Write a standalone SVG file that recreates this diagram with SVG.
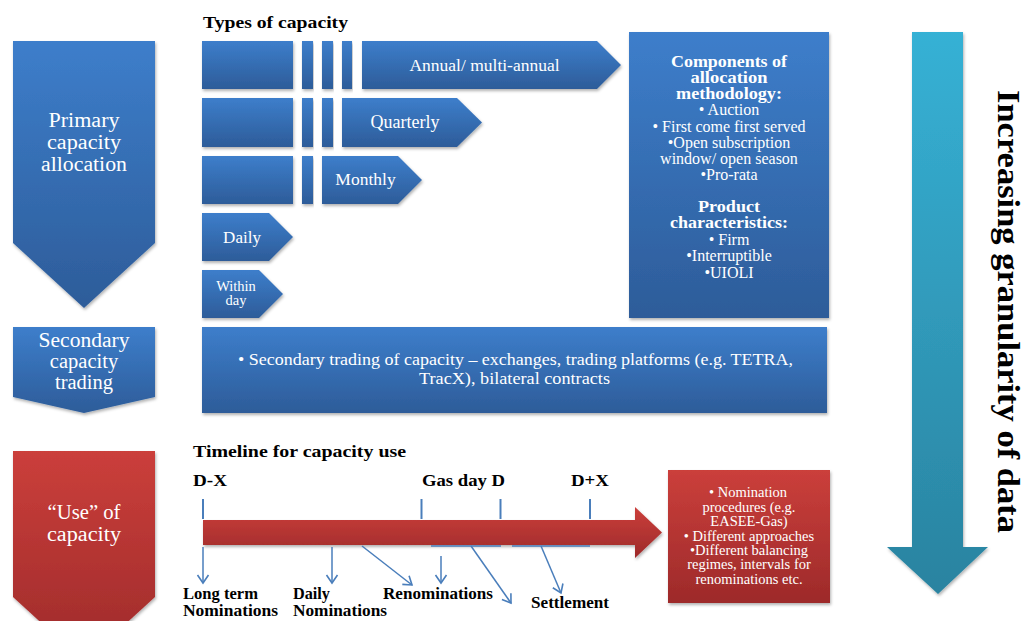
<svg xmlns="http://www.w3.org/2000/svg" width="1026" height="621" viewBox="0 0 1026 621">
  <defs>
    <linearGradient id="gBlue" x1="0" y1="0" x2="0" y2="1">
      <stop offset="0" stop-color="#3d7ecb"/>
      <stop offset="1" stop-color="#2d5c99"/>
    </linearGradient>
    <linearGradient id="gRed" x1="0" y1="0" x2="0" y2="1">
      <stop offset="0" stop-color="#cb3f3b"/>
      <stop offset="1" stop-color="#9d2a2a"/>
    </linearGradient>
    <linearGradient id="gTeal" x1="0" y1="0" x2="0" y2="1">
      <stop offset="0" stop-color="#36b1d5"/>
      <stop offset="1" stop-color="#2a83a0"/>
    </linearGradient>
    <filter id="shadow" x="-5%" y="-5%" width="112%" height="120%">
      <feDropShadow dx="1" dy="2" stdDeviation="1.5" flood-color="#000" flood-opacity="0.3"/>
    </filter>
    <marker id="open" viewBox="-10 -7 12 14" refX="0" refY="0" markerWidth="12" markerHeight="14" markerUnits="userSpaceOnUse" orient="auto">
      <path d="M-8,-5.5 L0,0 L-8,5.5" fill="none" stroke="#4a7ebb" stroke-width="1.6"/>
    </marker>
  </defs>
  <style>
    .blue { fill: url(#gBlue); filter: url(#shadow); }
    .red { fill: url(#gRed); filter: url(#shadow); }
    .lbl { font-family: "Liberation Serif", "Times New Roman", serif; fill: #ffffff; text-anchor: middle; }
    .head { font-family: "Liberation Serif", "Times New Roman", serif; font-weight: bold; fill: #000000; }
    .wb { font-weight: bold; }
    .conn { stroke: #4a7ebb; stroke-width: 1.5; fill: none; }
    .tick { stroke: #4a7ebb; stroke-width: 2; }
  </style>

  <!-- Left column: stage chevrons -->
  <g id="primary-allocation">
    <path class="blue" d="M13,41 H155 V243 L84,308 L13,243 Z"/>
    <text class="lbl" font-size="20.5" x="84" y="127" textLength="71" lengthAdjust="spacingAndGlyphs">Primary</text>
    <text class="lbl" font-size="20.5" x="84" y="149" textLength="74" lengthAdjust="spacingAndGlyphs">capacity</text>
    <text class="lbl" font-size="20.5" x="84" y="171" textLength="86" lengthAdjust="spacingAndGlyphs">allocation</text>
  </g>
  <g id="secondary-trading">
    <path class="blue" d="M13,327 H155 V397 L84,413 L13,397 Z"/>
    <text class="lbl" font-size="20.5" x="84" y="347" textLength="91" lengthAdjust="spacingAndGlyphs">Secondary</text>
    <text class="lbl" font-size="20.5" x="84" y="368">capacity</text>
    <text class="lbl" font-size="20.5" x="84" y="389">trading</text>
  </g>
  <g id="use-of-capacity">
    <path class="red" d="M13,451 H155 V597 L84,662 L13,597 Z"/>
    <text class="lbl" font-size="20.5" x="84" y="519" textLength="73" lengthAdjust="spacingAndGlyphs">“Use” of</text>
    <text class="lbl" font-size="20.5" x="84" y="541" textLength="74" lengthAdjust="spacingAndGlyphs">capacity</text>
  </g>

  <!-- Types of capacity -->
  <text class="head" font-size="17" x="203" y="28" textLength="145" lengthAdjust="spacingAndGlyphs">Types of capacity</text>

  <g id="annual">
    <rect class="blue" x="202" y="41" width="91" height="48"/>
    <rect class="blue" x="302" y="41" width="11" height="48"/>
    <rect class="blue" x="322" y="41" width="11" height="48"/>
    <rect class="blue" x="342" y="41" width="10" height="48"/>
    <path class="blue" d="M362,41 H597 L621,65 L597,89 H362 Z"/>
    <text class="lbl" font-size="17.5" x="484.5" y="71">Annual/ multi-annual</text>
  </g>
  <g id="quarterly">
    <rect class="blue" x="202" y="98" width="91" height="49"/>
    <rect class="blue" x="302" y="98" width="11" height="49"/>
    <rect class="blue" x="322" y="98" width="11" height="49"/>
    <path class="blue" d="M342,98 H457 L482,122.5 L457,147 H342 Z"/>
    <text class="lbl" font-size="18" x="405" y="128">Quarterly</text>
  </g>
  <g id="monthly">
    <rect class="blue" x="202" y="156" width="91" height="48"/>
    <rect class="blue" x="302" y="156" width="11" height="48"/>
    <path class="blue" d="M322,156 H398 L422,180 L398,204 H322 Z"/>
    <text class="lbl" font-size="17.5" x="365.5" y="185">Monthly</text>
  </g>
  <g id="daily">
    <path class="blue" d="M202,213 H269 L293,237 L269,261 H202 Z"/>
    <text class="lbl" font-size="17" x="242" y="243">Daily</text>
  </g>
  <g id="within-day">
    <path class="blue" d="M202,270 H259 L283,294 L259,318 H202 Z"/>
    <text class="lbl" font-size="14.5" x="236" y="291">Within</text>
    <text class="lbl" font-size="14.5" x="236" y="305">day</text>
  </g>

  <g id="allocation-components">
    <rect class="blue" x="629" y="32" width="200" height="286"/>
    <text class="lbl wb" font-size="16" x="729" y="67" textLength="116" lengthAdjust="spacingAndGlyphs">Components of</text>
    <text class="lbl wb" font-size="16" x="729" y="83" textLength="77" lengthAdjust="spacingAndGlyphs">allocation</text>
    <text class="lbl wb" font-size="16" x="729" y="99" textLength="106" lengthAdjust="spacingAndGlyphs">methodology:</text>
    <text class="lbl" font-size="16" x="729" y="115">• Auction</text>
    <text class="lbl" font-size="16" x="729" y="132">• First come first served</text>
    <text class="lbl" font-size="16" x="729" y="148">•Open subscription</text>
    <text class="lbl" font-size="16" x="729" y="164">window/ open season</text>
    <text class="lbl" font-size="16" x="729" y="180">•Pro-rata</text>
    <text class="lbl wb" font-size="16" x="729" y="212" textLength="62" lengthAdjust="spacingAndGlyphs">Product</text>
    <text class="lbl wb" font-size="16" x="729" y="228" textLength="118" lengthAdjust="spacingAndGlyphs">characteristics:</text>
    <text class="lbl" font-size="16" x="729" y="245">• Firm</text>
    <text class="lbl" font-size="16" x="729" y="261">•Interruptible</text>
    <text class="lbl" font-size="16" x="729" y="278">•UIOLI</text>
  </g>

  <g id="secondary-detail">
    <rect class="blue" x="202" y="327" width="625" height="86"/>
    <text class="lbl" font-size="17" x="515.5" y="365" textLength="555" lengthAdjust="spacingAndGlyphs">• Secondary trading of capacity – exchanges, trading platforms  (e.g. TETRA,</text>
    <text class="lbl" font-size="17" x="514.5" y="384" textLength="191" lengthAdjust="spacingAndGlyphs">TracX), bilateral contracts</text>
  </g>

  <!-- Timeline for capacity use -->
  <text class="head" font-size="16" x="193" y="457" textLength="213" lengthAdjust="spacingAndGlyphs">Timeline for capacity use</text>

  <g id="timeline">
    <text class="head" font-size="16" x="193" y="486" textLength="34" lengthAdjust="spacingAndGlyphs">D-X</text>
    <text class="head" font-size="16" x="422" y="486" textLength="83" lengthAdjust="spacingAndGlyphs">Gas day D</text>
    <text class="head" font-size="16" x="571" y="486" textLength="38" lengthAdjust="spacingAndGlyphs">D+X</text>
    <line class="tick" x1="203" y1="499" x2="203" y2="519"/>
    <line class="tick" x1="421.5" y1="499" x2="421.5" y2="519"/>
    <line class="tick" x1="500.5" y1="499" x2="500.5" y2="519"/>
    <line class="tick" x1="590" y1="499" x2="590" y2="519"/>
    <path class="red" d="M203,520 H635 V507 L662,532.5 L635,558 V545 H203 Z"/>
  </g>

  <g id="use-detail">
    <rect class="red" x="668" y="470" width="162" height="133"/>
    <text class="lbl" font-size="14.5" x="748" y="497">• Nomination</text>
    <text class="lbl" font-size="14.5" x="749" y="512">procedures (e.g.</text>
    <text class="lbl" font-size="14.5" x="749" y="526">EASEE-Gas)</text>
    <text class="lbl" font-size="14.5" x="749" y="541">• Different approaches</text>
    <text class="lbl" font-size="14.5" x="749" y="555">•Different balancing</text>
    <text class="lbl" font-size="14.5" x="749" y="569">regimes, intervals for</text>
    <text class="lbl" font-size="14.5" x="749" y="584">renominations etc.</text>
  </g>

  <!-- Connectors from the timeline to the nomination steps -->
  <g id="connectors">
    <line class="conn" x1="203" y1="547" x2="203" y2="583" marker-end="url(#open)"/>
    <line class="conn" x1="332" y1="547" x2="332" y2="583" marker-end="url(#open)"/>
    <line class="conn" x1="362" y1="546" x2="412" y2="585" marker-end="url(#open)"/>
    <line class="conn" x1="431" y1="546" x2="501" y2="546"/>
    <line class="conn" x1="512" y1="546" x2="590" y2="546"/>
    <line class="conn" x1="441" y1="556" x2="441" y2="583" stroke-width="2.6" marker-end="url(#open)"/>
    <line class="conn" x1="471" y1="546" x2="511" y2="603" marker-end="url(#open)"/>
    <line class="conn" x1="541" y1="546" x2="561" y2="593" marker-end="url(#open)"/>
  </g>

  <g id="nomination-labels">
    <text class="head" font-size="16" x="183" y="599" textLength="75" lengthAdjust="spacingAndGlyphs">Long term</text>
    <text class="head" font-size="16" x="183" y="616" textLength="95" lengthAdjust="spacingAndGlyphs">Nominations</text>
    <text class="head" font-size="16" x="293" y="599" textLength="37" lengthAdjust="spacingAndGlyphs">Daily</text>
    <text class="head" font-size="16" x="293" y="616" textLength="94" lengthAdjust="spacingAndGlyphs">Nominations</text>
    <text class="head" font-size="16" x="383" y="599" textLength="110" lengthAdjust="spacingAndGlyphs">Renominations</text>
    <text class="head" font-size="16" x="531" y="608" textLength="78" lengthAdjust="spacingAndGlyphs">Settlement</text>
  </g>

  <!-- Granularity arrow on the right -->
  <g id="granularity">
    <path d="M912,32 H963 V547 H988 L938,594 L887,547 H912 Z" fill="url(#gTeal)" filter="url(#shadow)"/>
    <text class="head" font-size="31" transform="translate(998,90) rotate(90)" textLength="443" lengthAdjust="spacingAndGlyphs">Increasing  granularity of data</text>
  </g>
</svg>
